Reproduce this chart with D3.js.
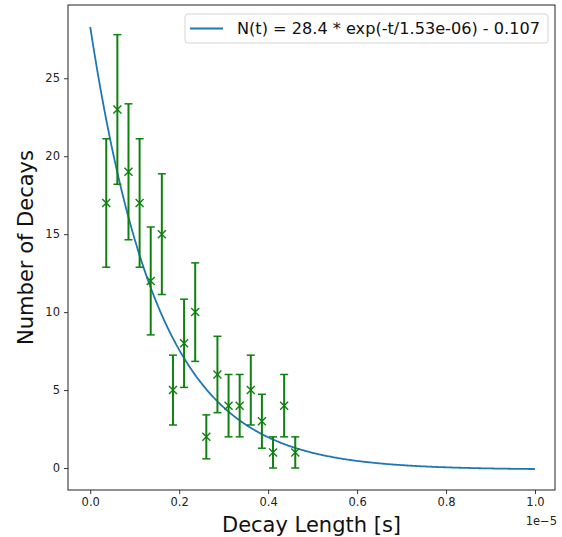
<!DOCTYPE html>
<html>
<head>
<meta charset="utf-8">
<script src="https://cdn.jsdelivr.net/npm/d3@7"></script>
<style>
  html, body { margin: 0; padding: 0; background: #fff; }
  svg { display: block; font-family: "DejaVu Sans", sans-serif; }
</style>
</head>
<body>
<svg id="chart" width="562" height="537"></svg>
<script>
// ---- data (decay length in units of 1e-6 s) ----
const decayLengths = [0.36, 0.61, 0.86, 1.11, 1.36, 1.61, 1.86, 2.11, 2.36, 2.61, 2.86, 3.11, 3.36, 3.61, 3.86, 4.11, 4.36, 4.61];
const decayCounts  = [17, 23, 19, 17, 12, 15, 5, 8, 10, 2, 6, 4, 4, 5, 3, 1, 4, 1];
const countErrors  = [4.12, 4.80, 4.36, 4.12, 3.46, 3.87, 2.24, 2.83, 3.16, 1.41, 2.45, 2.00, 2.00, 2.24, 1.73, 1.00, 2.00, 1.00];
// fit parameters shown in legend
const fitAmplitude = 28.4;
const fitTau = 1.53e-6;
const fitOffset = -0.107;
const fitRange = [0, 1e-5];
const xTickValues = [0, 0.2e-5, 0.4e-5, 0.6e-5, 0.8e-5, 1.0e-5];
const xTickLabels = ["0.0", "0.2", "0.4", "0.6", "0.8", "1.0"];
const yTickValues = [0, 5, 10, 15, 20, 25];
const legendLabel = "N(t) = 28.4 * exp(-t/1.53e-06) - 0.107";

const svg = d3.select("#chart");
const pLeft = 68, pRight = 555, pTop = 5, pBottom = 490;

const x = d3.scaleLinear().domain([-0.05e-5, 1.045e-5]).range([pLeft, pRight]);
const y = d3.scaleLinear().domain([-1.41, 29.7]).range([pBottom, pTop]);

// fit curve samples
const nSamples = 400;
const fitPts = d3.range(nSamples + 1).map(i => {
  const t = fitRange[0] + (fitRange[1] - fitRange[0]) * i / nSamples;
  return [t, fitAmplitude * Math.exp(-t / fitTau) + fitOffset];
});

// axes
const xAxis = d3.axisBottom(x).tickValues(xTickValues).tickFormat((d, i) => xTickLabels[i]).tickSize(4).tickPadding(4);
const yAxis = d3.axisLeft(y).tickValues(yTickValues).tickFormat(d3.format("d")).tickSize(4).tickPadding(4);

const gx = svg.append("g").attr("transform", `translate(0,${pBottom})`).call(xAxis);
const gy = svg.append("g").attr("transform", `translate(${pLeft},0)`).call(yAxis);
[gx, gy].forEach(g => {
  g.select(".domain").remove();
  g.selectAll("text").attr("font-size", 11.5).attr("fill", "#222").attr("font-family", "DejaVu Sans, sans-serif");
  g.selectAll("line").attr("stroke", "#222").attr("stroke-width", 0.9);
});

// frame
svg.append("rect").attr("x", pLeft).attr("y", pTop).attr("width", pRight - pLeft).attr("height", pBottom - pTop)
  .attr("fill", "none").attr("stroke", "#222").attr("stroke-width", 1);

// fit line
svg.append("path").datum(fitPts)
  .attr("d", d3.line().x(d => x(d[0])).y(d => y(d[1])))
  .attr("fill", "none").attr("stroke", "#1f77b4").attr("stroke-width", 1.8);

// error bars
const green = "#108010";
const pts = decayLengths.map((v, i) => ({ t: v * 1e-6, n: decayCounts[i], e: countErrors[i] }));
const eg = svg.append("g").attr("stroke", green).attr("fill", "none");
eg.selectAll(".vbar").data(pts).join("line")
  .attr("x1", d => x(d.t)).attr("x2", d => x(d.t))
  .attr("y1", d => y(d.n - d.e)).attr("y2", d => y(d.n + d.e))
  .attr("stroke-width", 2);
["lo", "hi"].forEach(k => {
  eg.selectAll(".cap" + k).data(pts).join("line")
    .attr("x1", d => x(d.t) - 4).attr("x2", d => x(d.t) + 4)
    .attr("y1", d => y(k === "lo" ? d.n - d.e : d.n + d.e))
    .attr("y2", d => y(k === "lo" ? d.n - d.e : d.n + d.e))
    .attr("stroke-width", 1.5);
});
// x markers
const m = 4;
eg.selectAll(".mk").data(pts).join("path")
  .attr("d", d => `M${x(d.t) - m},${y(d.n) - m}L${x(d.t) + m},${y(d.n) + m}M${x(d.t) - m},${y(d.n) + m}L${x(d.t) + m},${y(d.n) - m}`)
  .attr("stroke-width", 1.4);

// legend
const lg = svg.append("g");
lg.append("rect").attr("x", 185).attr("y", 14).attr("width", 363).attr("height", 29).attr("rx", 3)
  .attr("fill", "#fff").attr("fill-opacity", 0.85).attr("stroke", "#d5d5d5").attr("stroke-width", 1);
lg.append("line").attr("x1", 190).attr("x2", 223).attr("y1", 28.5).attr("y2", 28.5)
  .attr("stroke", "#1f77b4").attr("stroke-width", 1.8);
lg.append("text").attr("x", 237).attr("y", 34).attr("font-size", 15).attr("fill", "#111")
  .attr("textLength", 303).attr("lengthAdjust", "spacingAndGlyphs").text(legendLabel);

// offset text
svg.append("text").attr("x", 557).attr("y", 525).attr("text-anchor", "end").attr("font-size", 11.5).attr("fill", "#222").text("1e\u22125");

// axis labels
svg.append("text").attr("x", (pLeft + pRight) / 2).attr("y", 532).attr("text-anchor", "middle")
  .attr("font-size", 21).attr("fill", "#111").text("Decay Length [s]");
svg.append("text").attr("transform", `translate(33,${(pTop + pBottom) / 2}) rotate(-90)`).attr("text-anchor", "middle")
  .attr("font-size", 21).attr("fill", "#111").text("Number of Decays");
</script>
</body>
</html>
